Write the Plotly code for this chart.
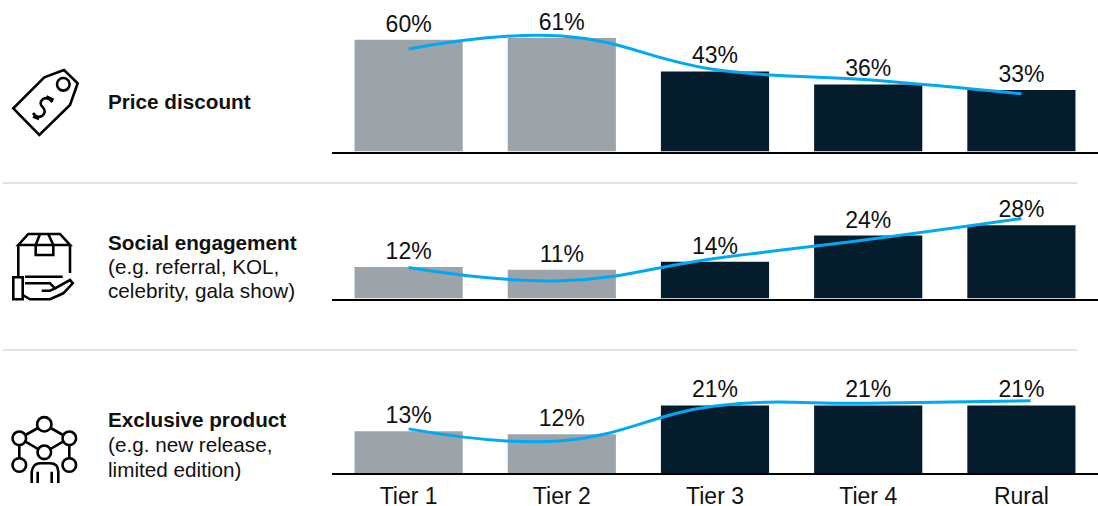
import plotly.graph_objects as go

W, H = 1098, 506
tiers = ["Tier 1", "Tier 2", "Tier 3", "Tier 4", "Rural"]
tier_pos = [0, 1, 2, 3, 4]

price_bars = [60, 61, 43, 36, 33]
social_bars = [12, 11, 14, 24, 28]
exclusive_bars = [13, 12, 21, 21, 21]

price_line = [55, 62, 44, 38.5, 31]
social_line = [11.8, 6.8, 15.3, 22.5, 30.5]
exclusive_line = [13.7, 10, 20.8, 21.7, 22.4]
line_x_price = [0, 1, 2, 3, 4]
line_x_social = [0, 1, 2, 3, 4]
line_x_exclusive = [0, 1, 2, 3, 4.06]

label_lines = [
    ("<b>Price discount</b>", 101.5),
    ("<b>Social engagement</b>", 242.5),
    ("(e.g. referral, KOL,", 266.5),
    ("celebrity, gala show)", 290.5),
    ("<b>Exclusive product</b>", 419.5),
    ("(e.g. new release,", 444.5),
    ("limited edition)", 469),
]

GREY, NAVY, BLUE = "#9CA3A9", "#051C2C", "#00A9F4"
bar_colors = [GREY, GREY, NAVY, NAVY, NAVY]
FONT = "Liberation Sans, Arial, sans-serif"
INK = "#111111"

# row: bars, line, line x, baseline px, top px, px per unit
rows = [
    (price_bars, price_line, line_x_price, 151.5, 0, 1.862),
    (social_bars, social_line, line_x_social, 298.5, 190, 2.62),
    (exclusive_bars, exclusive_line, line_x_exclusive, 473, 360, 3.22),
]

fig = go.Figure()
layout_axes = {}
for i, (bars, line, lx, base, top, scale) in enumerate(rows, start=1):
    s = "" if i == 1 else str(i)
    fig.add_trace(go.Bar(x=tier_pos, y=bars, xaxis=f"x{s}", yaxis=f"y{s}", width=0.706,
                         marker=dict(color=bar_colors, line=dict(width=0)),
                         text=[f"{v}%" for v in bars], textposition="outside", cliponaxis=False,
                         textfont=dict(size=23, color=INK, family=FONT)))
    fig.add_trace(go.Scatter(x=lx, y=line, xaxis=f"x{s}", yaxis=f"y{s}", mode="lines", cliponaxis=False,
                             line=dict(color=BLUE, width=3, shape="spline", smoothing=1.2)))
    layout_axes[f"xaxis{s}"] = dict(domain=[332 / W, 1098 / W], range=[-0.5, 4.5], anchor=f"y{s}",
                                    showgrid=False, zeroline=False, showline=True, linecolor="#000000",
                                    linewidth=2, ticks="", tickmode="array", tickvals=tier_pos,
                                    ticktext=tiers if i == 3 else [""] * 5,
                                    showticklabels=i == 3, ticklabelstandoff=1,
                                    tickfont=dict(size=23, color=INK, family=FONT))
    layout_axes[f"yaxis{s}"] = dict(domain=[(H - base) / H, (H - top) / H], range=[0, (base - top) / scale],
                                    anchor=f"x{s}", visible=False)
layout_axes["xaxis4"] = dict(domain=[0, 1], range=[0, W], visible=False, anchor="y4", fixedrange=True)
layout_axes["yaxis4"] = dict(domain=[0, 1], range=[H, 0], visible=False, anchor="x4", fixedrange=True)

ICON_W = 2.6


def path(d, width=ICON_W):
    return dict(type="path", xref="x4", yref="y4", path=d, line=dict(color="#000000", width=width))


def circle(cx, cy, r, width=ICON_W):
    return dict(type="circle", xref="x4", yref="y4", x0=cx - r, x1=cx + r, y0=cy - r, y1=cy + r,
                line=dict(color="#000000", width=width))


def rule(y):
    return dict(type="line", xref="x4", yref="y4", x0=3, x1=1077, y0=y, y1=y,
                line=dict(color="#D9D9D9", width=1.5))


shapes = [rule(183), rule(350)]
# price tag icon
shapes += [
    path("M13.3,108.3 L39.3,135 L70,105 L77.7,83.3 L64,70 L44.3,77.3 Z"),
    circle(63.3, 84.3, 6.3),
    path("M52.5,102 Q47,96 42.5,99.5 Q38.5,103.5 43,107.5 Q47,112 42,116 Q37,118.5 33,113"),
    path("M46.5,96.5 L53.5,100 M33,116.5 L39,119"),
]
# box in hand icon
shapes += [
    path("M18.3,245 L28.3,234 L60,234 L70,245 Z"),
    path("M18.3,245 L18.3,276 M70,245 L70,273"),
    path("M40,234 L35.7,245 L35.7,255 L53.3,255 L53.3,245 L48.3,234"),
    path("M13.3,277.3 L22.7,277.3 L22.7,299.3 L13.3,299.3 Z"),
    path("M25,276.7 L62.7,276.7"),
    path("M25,283.3 L50,283.3 L55,288.3 L50,290.7 L41.7,290.7"),
    path("M55,288.3 L70,280 L72.7,283.3 L63.3,293.3 L50,299.3 L30,299.3 L22.7,295"),
]
# network and person icon
shapes += [
    circle(44.3, 424.3, 7.2), circle(19.3, 438.3, 6.8), circle(69.3, 438.3, 6.8),
    circle(44.3, 452.3, 6.8), circle(19.3, 465, 6.8), circle(69.3, 465, 6.8),
    path("M38,428 L25.5,435 M50.7,428 L63,435 M25.5,441.7 L38,449 M63,441.7 L50.5,449"),
    path("M19.3,445 L19.3,458 M69.3,445 L69.3,458"),
    path("M31.7,483 L31.7,471.7 Q33.3,463.3 40,463.3 L50,463.3 Q58.3,463.3 58.3,471.7 L58.3,483"),
    path("M37.7,471.7 L37.7,483 M51.7,471.7 L51.7,483"),
]

annotations = [
    dict(xref="x4", yref="y4", x=106, y=y, text=t, showarrow=False, xanchor="left", yanchor="middle",
         align="left", font=dict(size=20.7, color=INK, family=FONT))
    for t, y in label_lines
]

fig.update_layout(width=W, height=H, autosize=False,
                  margin=dict(l=0, r=0, t=0, b=0, autoexpand=False), showlegend=False,
                  plot_bgcolor="rgba(0,0,0,0)", paper_bgcolor="#FFFFFF", barmode="overlay", shapes=shapes,
                  annotations=annotations, font=dict(family=FONT), **layout_axes)
fig.write_html("out.html", post_script="document.body.style.margin='0';", config={"displayModeBar": False})
